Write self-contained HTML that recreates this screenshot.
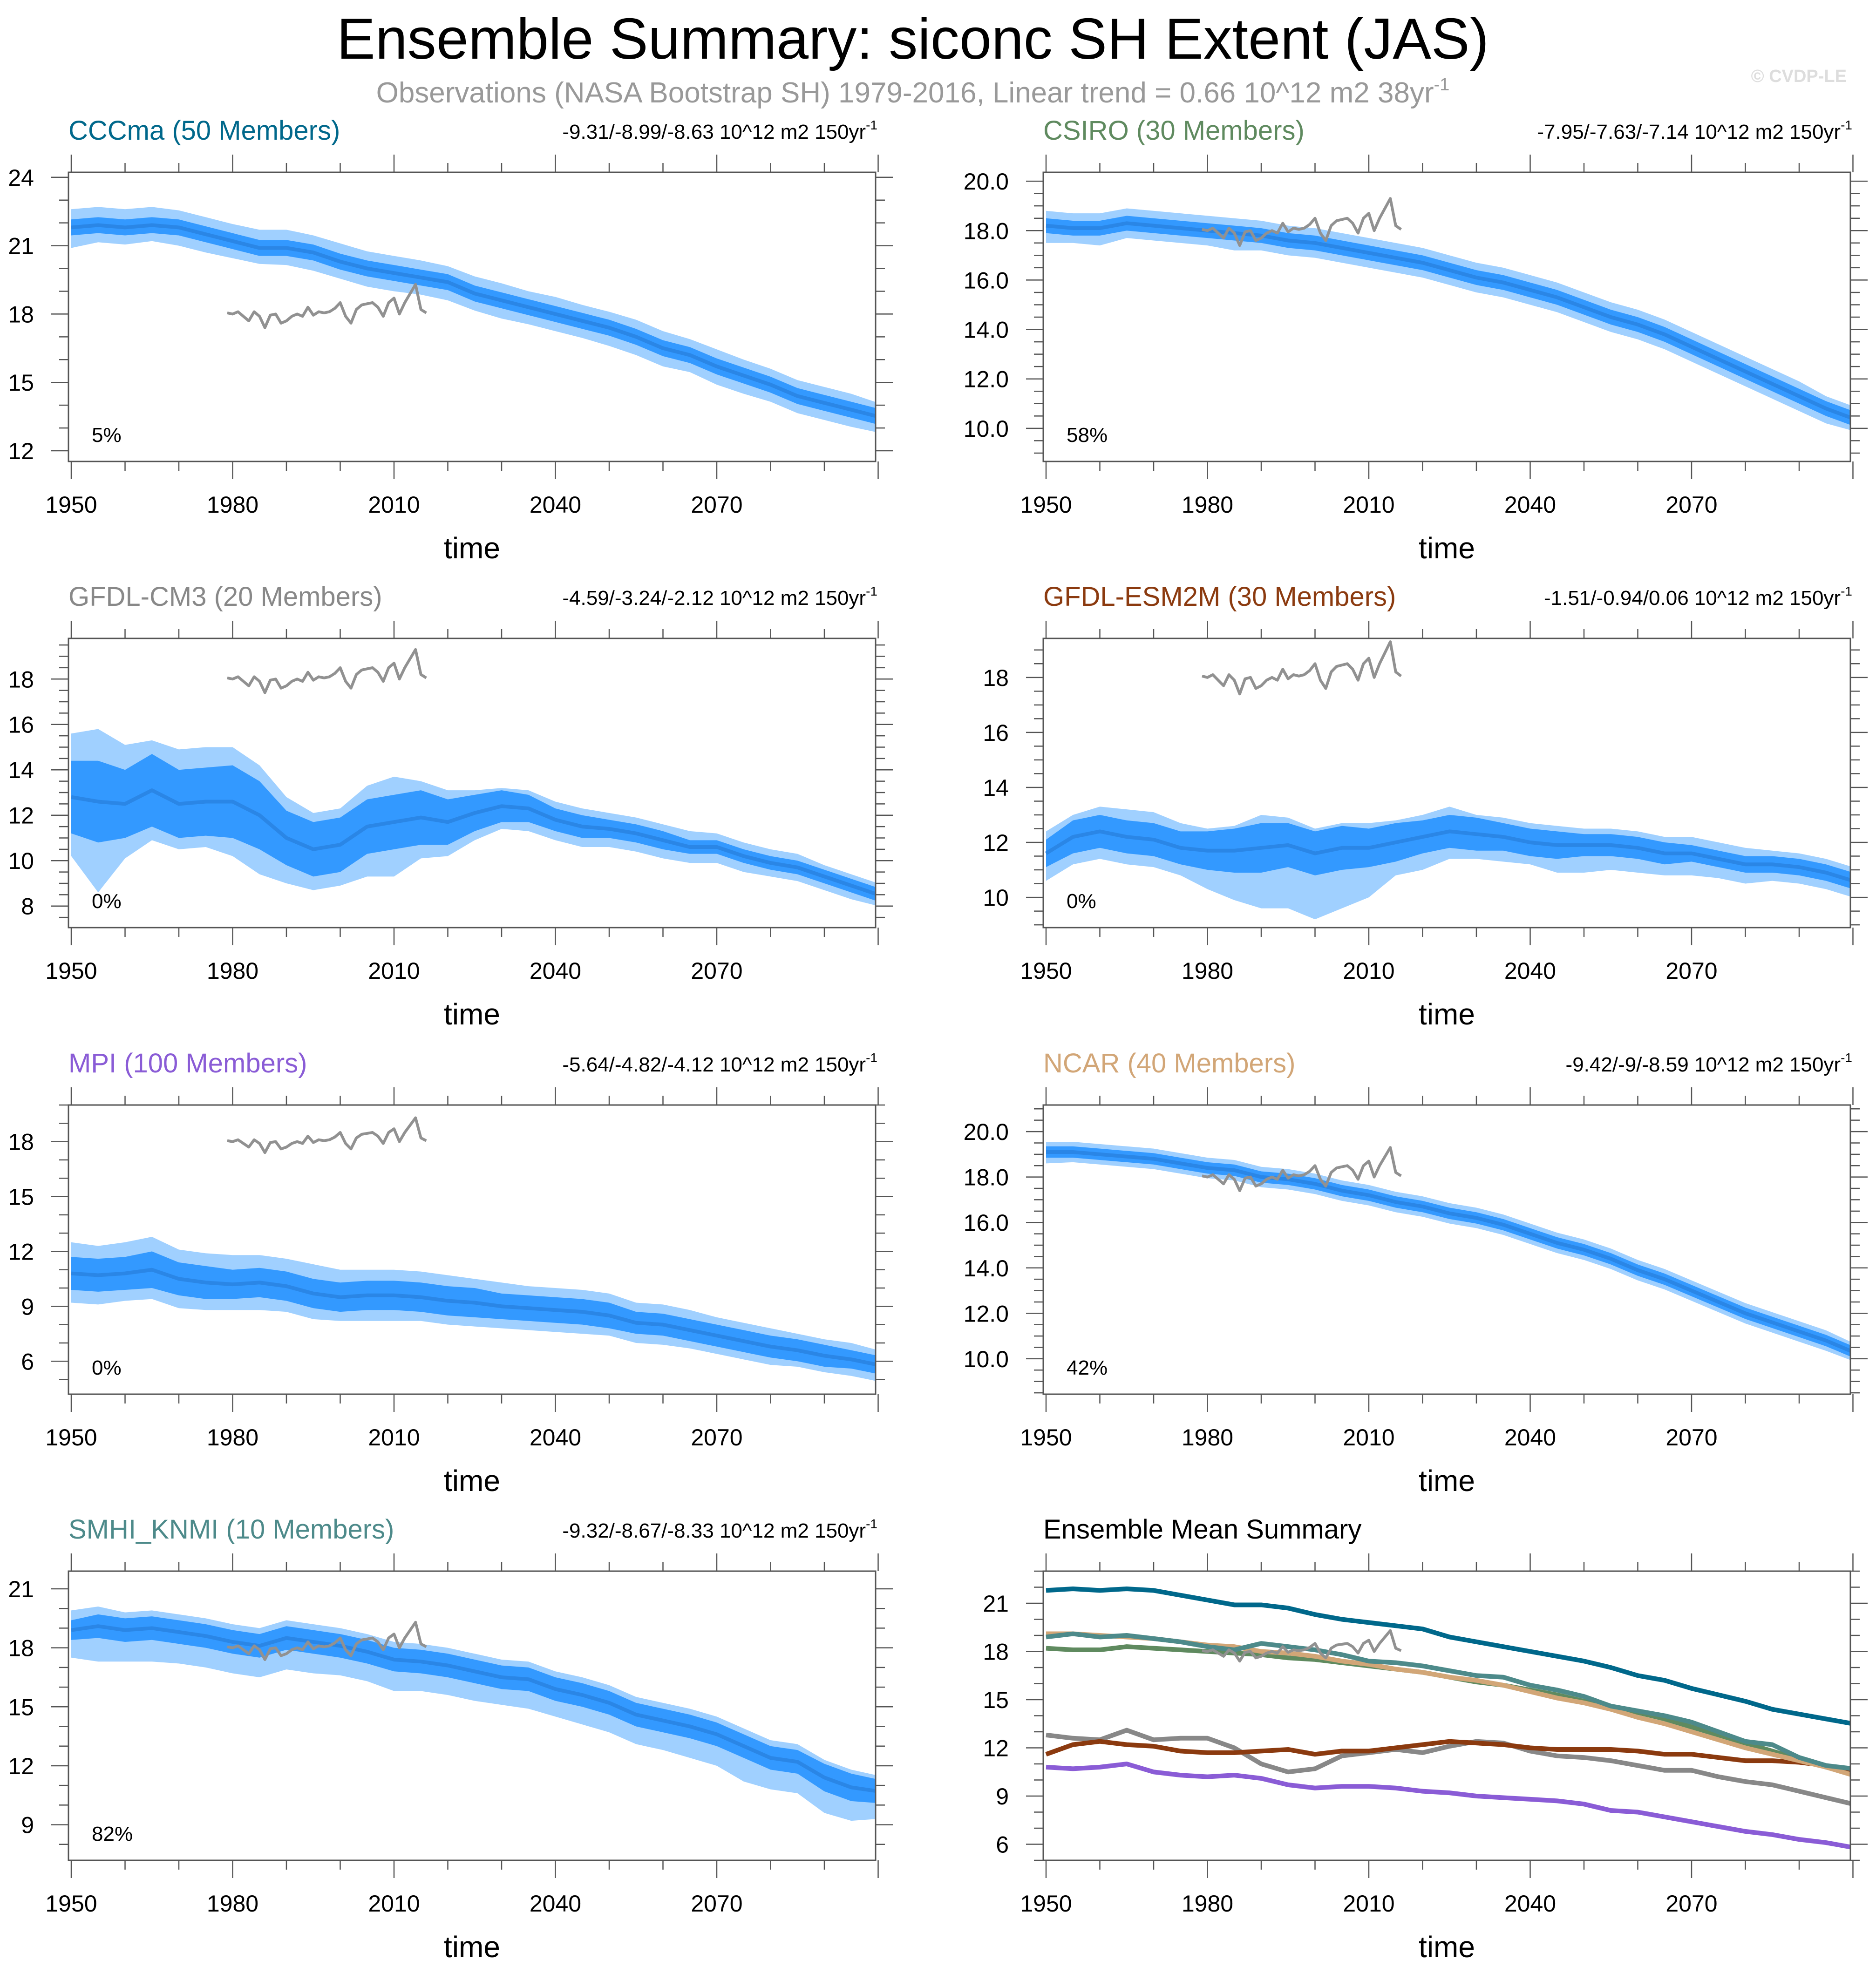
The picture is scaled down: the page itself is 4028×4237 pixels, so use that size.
<!DOCTYPE html>
<html><head><meta charset="utf-8">
<style>
html,body{margin:0;padding:0;background:#fff;}
svg{display:block;font-family:"Liberation Sans",Arial,sans-serif;}
</style></head>
<body>
<svg id="fig" width="4028" height="4237" viewBox="0 0 4028 4237" xmlns="http://www.w3.org/2000/svg">
<text x="1960" y="126" font-size="124" text-anchor="middle" fill="#000">Ensemble Summary: siconc SH Extent (JAS)</text>
<text x="1960" y="220" font-size="62" text-anchor="middle" fill="#999">Observations (NASA Bootstrap SH) 1979-2016, Linear trend = 0.66 10^12 m2 38yr<tspan font-size="38" dy="-26">-1</tspan></text>
<text x="3965" y="176" font-size="38" font-weight="bold" text-anchor="end" fill="#ddd">© CVDP-LE</text>
</svg>
<script>
// ---- data (5-year steps, 1950..2100) ----
const years5 = [1950,1955,1960,1965,1970,1975,1980,1985,1990,1995,2000,2005,2010,2015,2020,2025,2030,2035,2040,2045,2050,2055,2060,2065,2070,2075,2080,2085,2090,2095,2100];
const obsYears = [1979,1980,1981,1982,1983,1984,1985,1986,1987,1988,1989,1990,1991,1992,1993,1994,1995,1996,1997,1998,1999,2000,2001,2002,2003,2004,2005,2006,2007,2008,2009,2010,2011,2012,2013,2014,2015,2016];
const obsValues = [18.05,18.0,18.1,17.9,17.7,18.1,17.9,17.4,17.95,18.0,17.6,17.7,17.9,18.0,17.9,18.3,17.95,18.1,18.05,18.1,18.25,18.5,17.9,17.6,18.2,18.4,18.45,18.5,18.3,17.9,18.5,18.7,18.0,18.5,18.9,19.3,18.2,18.05];

const cccmaMean = [21.8,21.9,21.8,21.9,21.8,21.5,21.2,20.9,20.9,20.7,20.3,20.0,19.8,19.6,19.4,18.9,18.6,18.3,18.0,17.7,17.4,17.0,16.5,16.2,15.7,15.3,14.9,14.4,14.1,13.8,13.5];
const cccmaInner = [0.35,0.35,0.35,0.35,0.35,0.35,0.35,0.35,0.35,0.35,0.35,0.35,0.35,0.35,0.35,0.35,0.35,0.35,0.35,0.35,0.35,0.35,0.35,0.35,0.35,0.35,0.35,0.35,0.35,0.35,0.35];
const cccmaOutLo = [0.9,0.75,0.75,0.7,0.8,0.8,0.75,0.7,0.75,0.8,0.75,0.8,0.8,0.75,0.8,0.75,0.8,0.75,0.75,0.75,0.8,0.8,0.8,0.75,0.8,0.8,0.75,0.75,0.75,0.75,0.7];
const cccmaOutHi = [0.8,0.8,0.8,0.8,0.75,0.75,0.75,0.8,0.8,0.75,0.8,0.75,0.75,0.75,0.7,0.75,0.75,0.7,0.75,0.7,0.7,0.75,0.75,0.7,0.75,0.7,0.7,0.7,0.7,0.7,0.6];

const csiroMean = [18.2,18.1,18.1,18.3,18.2,18.1,18.0,17.9,17.8,17.6,17.5,17.3,17.1,16.9,16.7,16.4,16.1,15.9,15.6,15.3,14.9,14.5,14.2,13.8,13.3,12.8,12.3,11.8,11.3,10.8,10.4];
const csiroInner = [0.3,0.3,0.3,0.3,0.3,0.3,0.3,0.3,0.3,0.3,0.3,0.3,0.3,0.3,0.3,0.3,0.3,0.3,0.3,0.3,0.3,0.3,0.3,0.3,0.3,0.3,0.3,0.3,0.3,0.3,0.3];
const csiroOutLo = [0.7,0.6,0.7,0.6,0.6,0.6,0.6,0.7,0.6,0.6,0.6,0.6,0.6,0.6,0.6,0.6,0.6,0.6,0.6,0.6,0.6,0.6,0.6,0.6,0.6,0.6,0.6,0.6,0.6,0.6,0.5];
const csiroOutHi = [0.6,0.6,0.6,0.6,0.6,0.6,0.6,0.6,0.6,0.6,0.6,0.6,0.6,0.6,0.6,0.6,0.6,0.6,0.6,0.6,0.6,0.6,0.6,0.6,0.6,0.6,0.6,0.6,0.6,0.5,0.5];

const cm3Mean = [12.8,12.6,12.5,13.1,12.5,12.6,12.6,12.0,11.0,10.5,10.7,11.5,11.7,11.9,11.7,12.1,12.4,12.3,11.8,11.5,11.4,11.2,10.9,10.6,10.6,10.2,9.9,9.7,9.3,8.9,8.5];
const cm3Inner = [1.6,1.8,1.5,1.6,1.5,1.5,1.6,1.5,1.2,1.2,1.2,1.2,1.2,1.2,1.0,0.8,0.7,0.6,0.5,0.5,0.4,0.4,0.4,0.3,0.3,0.3,0.3,0.3,0.3,0.3,0.3];
const cm3OutLo = [2.6,4.0,2.4,2.2,2.0,2.0,2.4,2.6,2.0,1.8,1.8,2.2,2.4,1.8,1.5,1.2,1.0,1.0,0.9,0.9,0.8,0.8,0.8,0.7,0.7,0.7,0.6,0.6,0.6,0.6,0.5];
const cm3OutHi = [2.8,3.2,2.6,2.2,2.4,2.4,2.4,2.2,1.8,1.6,1.6,1.8,2.0,1.6,1.4,1.0,0.8,0.8,0.8,0.8,0.7,0.7,0.7,0.7,0.6,0.6,0.6,0.6,0.5,0.5,0.5];

const esmMean = [11.6,12.2,12.4,12.2,12.1,11.8,11.7,11.7,11.8,11.9,11.6,11.8,11.8,12.0,12.2,12.4,12.3,12.2,12.0,11.9,11.9,11.9,11.8,11.6,11.6,11.4,11.2,11.2,11.1,10.9,10.6];
const esmInner = [0.5,0.6,0.6,0.6,0.6,0.6,0.7,0.8,0.9,0.8,0.8,0.8,0.7,0.7,0.6,0.6,0.6,0.5,0.5,0.5,0.4,0.4,0.4,0.4,0.3,0.3,0.3,0.3,0.3,0.3,0.3];
const esmOutLo = [1.0,1.0,1.0,1.0,1.0,1.0,1.4,1.8,2.2,2.3,2.4,2.2,1.8,1.2,1.2,1.0,0.9,0.9,0.8,1.0,1.0,0.9,0.9,0.8,0.8,0.7,0.7,0.6,0.6,0.6,0.6];
const esmOutHi = [0.8,0.8,0.9,1.0,1.0,0.9,0.8,0.9,1.2,1.0,0.9,0.9,0.9,0.8,0.8,0.9,0.7,0.7,0.7,0.7,0.6,0.6,0.6,0.6,0.6,0.6,0.6,0.5,0.5,0.5,0.5];

const mpiMean = [10.8,10.7,10.8,11.0,10.5,10.3,10.2,10.3,10.1,9.7,9.5,9.6,9.6,9.5,9.3,9.2,9.0,8.9,8.8,8.7,8.5,8.1,8.0,7.7,7.4,7.1,6.8,6.6,6.3,6.1,5.8];
const mpiInner = [0.9,0.9,0.9,1.0,0.9,0.9,0.8,0.8,0.8,0.8,0.8,0.8,0.8,0.8,0.8,0.8,0.7,0.7,0.7,0.7,0.7,0.6,0.6,0.6,0.6,0.6,0.6,0.6,0.6,0.5,0.5];
const mpiOutLo = [1.6,1.6,1.5,1.6,1.6,1.5,1.4,1.5,1.4,1.4,1.3,1.4,1.4,1.3,1.3,1.3,1.2,1.2,1.2,1.2,1.1,1.1,1.1,1.0,1.0,1.0,1.0,0.9,0.9,0.9,0.9];
const mpiOutHi = [1.7,1.6,1.7,1.8,1.6,1.6,1.6,1.5,1.5,1.6,1.5,1.4,1.4,1.4,1.4,1.3,1.3,1.2,1.2,1.2,1.2,1.1,1.1,1.1,1.0,1.0,1.0,0.9,0.9,0.9,0.8];

const ncarMean = [19.1,19.1,19.0,18.9,18.8,18.6,18.4,18.3,18.0,17.9,17.7,17.4,17.2,16.9,16.7,16.4,16.2,15.9,15.5,15.1,14.8,14.4,13.9,13.5,13.0,12.5,12.0,11.6,11.2,10.8,10.3];
const ncarInner = [0.25,0.25,0.25,0.25,0.25,0.25,0.25,0.25,0.25,0.25,0.25,0.25,0.25,0.25,0.25,0.25,0.25,0.25,0.25,0.25,0.25,0.25,0.25,0.25,0.25,0.25,0.25,0.25,0.25,0.25,0.25];
const ncarOutLo = [0.5,0.45,0.45,0.45,0.45,0.45,0.45,0.45,0.45,0.45,0.45,0.45,0.45,0.45,0.45,0.45,0.45,0.45,0.45,0.45,0.45,0.45,0.45,0.45,0.45,0.45,0.45,0.45,0.45,0.45,0.4];
const ncarOutHi = [0.45,0.45,0.45,0.45,0.45,0.45,0.45,0.45,0.45,0.45,0.45,0.45,0.45,0.45,0.45,0.45,0.45,0.45,0.45,0.45,0.45,0.45,0.45,0.45,0.45,0.45,0.45,0.45,0.45,0.45,0.4];

const smhiMean = [18.9,19.1,18.9,19.0,18.8,18.6,18.3,18.1,18.5,18.3,18.1,17.8,17.4,17.3,17.1,16.8,16.5,16.4,15.9,15.6,15.2,14.6,14.3,14.0,13.6,13.0,12.4,12.2,11.4,10.9,10.7];
const smhiInner = [0.5,0.6,0.6,0.6,0.6,0.6,0.6,0.6,0.6,0.6,0.6,0.6,0.6,0.6,0.6,0.6,0.6,0.6,0.6,0.6,0.6,0.6,0.6,0.6,0.6,0.6,0.6,0.6,0.7,0.7,0.6];
const smhiOutLo = [1.4,1.8,1.6,1.7,1.6,1.6,1.6,1.6,1.6,1.6,1.5,1.5,1.6,1.5,1.5,1.5,1.4,1.5,1.4,1.5,1.5,1.5,1.5,1.6,1.6,1.8,1.6,1.6,1.8,1.7,1.4];
const smhiOutHi = [1.0,1.0,0.9,0.9,0.9,0.9,0.9,0.9,0.9,0.9,0.9,0.9,0.9,0.9,0.9,0.9,0.9,0.9,0.9,0.9,0.9,0.9,0.9,0.9,0.9,0.9,0.9,0.9,0.9,0.9,0.8];

const modelNames = ["CCCma (50 Members)","CSIRO (30 Members)","GFDL-CM3 (20 Members)","GFDL-ESM2M (30 Members)","MPI (100 Members)","NCAR (40 Members)","SMHI_KNMI (10 Members)"];
const trendLabels = ["-9.31/-8.99/-8.63","-7.95/-7.63/-7.14","-4.59/-3.24/-2.12","-1.51/-0.94/0.06","-5.64/-4.82/-4.12","-9.42/-9/-8.59","-9.32/-8.67/-8.33"];
const pctLabels = ["5%","58%","0%","0%","0%","42%","82%"];
const xTickLabels = [1950,1980,2010,2040,2070];

// ---- layout / style ----
const NS = "http://www.w3.org/2000/svg";
const svg = document.getElementById("fig");
const modelColors = ["#00688b","#5f8a5f","#888888","#8b3a0f","#8a5cd6","#d2a677","#4d8a8a"];
const series = [
 {m:cccmaMean,i:cccmaInner,lo:cccmaOutLo,hi:cccmaOutHi},
 {m:csiroMean,i:csiroInner,lo:csiroOutLo,hi:csiroOutHi},
 {m:cm3Mean,i:cm3Inner,lo:cm3OutLo,hi:cm3OutHi},
 {m:esmMean,i:esmInner,lo:esmOutLo,hi:esmOutHi},
 {m:mpiMean,i:mpiInner,lo:mpiOutLo,hi:mpiOutHi},
 {m:ncarMean,i:ncarInner,lo:ncarOutLo,hi:ncarOutHi},
 {m:smhiMean,i:smhiInner,lo:smhiOutLo,hi:smhiOutHi}
];
const axes = [
 {ymin:11.53,ymax:24.22,t0:12,t1:24,step:3,minor:1,dec:0},
 {ymin:8.66,ymax:20.36,t0:10,t1:20,step:2,minor:0.5,dec:1},
 {ymin:7.05,ymax:19.79,t0:8,t1:18,step:2,minor:0.5,dec:0},
 {ymin:8.9,ymax:19.42,t0:10,t1:18,step:2,minor:0.5,dec:0},
 {ymin:4.2,ymax:20.0,t0:6,t1:18,step:3,minor:1,dec:0},
 {ymin:8.44,ymax:21.17,t0:10,t1:20,step:2,minor:0.5,dec:1},
 {ymin:7.19,ymax:21.9,t0:9,t1:21,step:3,minor:1,dec:0},
 {ymin:5.0,ymax:23.0,t0:6,t1:21,step:3,minor:1,dec:0}
];
const colLeft = [147,2240], boxW = 1733, rowTop = [370,1371,2373,3374], boxH = 621;

function mk(tag, attrs, parent){
  const e = document.createElementNS(NS, tag);
  for (const k in attrs) e.setAttribute(k, attrs[k]);
  (parent||svg).appendChild(e);
  return e;
}

for (let p = 0; p < 8; p++){
  const L = colLeft[p%2], T = rowTop[Math.floor(p/2)], R = L+boxW, B = T+boxH;
  const ax = axes[p];
  const xs = yr => L + 6 + (yr-1950)*11.55;
  const ys = v => B - (v-ax.ymin)/(ax.ymax-ax.ymin)*boxH;
  const g = mk("g", {});
  
  

  const clipId = "clip"+p;
  const cp = mk("clipPath", {id:clipId}, g);
  mk("rect", {x:L, y:T, width:boxW, height:boxH}, cp);
  const plot = mk("g", {"clip-path":"url(#"+clipId+")"}, g);

  const pts = (arr) => years5.map((y,k)=> xs(y)+","+ys(arr[k])).join(" ");

  if (p < 7){
    const s = series[p];
    const outerPts = years5.map((y,k)=>xs(y)+","+ys(s.m[k]+s.hi[k])).concat(years5.slice().reverse().map((y,j)=>{const k=years5.length-1-j;return xs(y)+","+ys(s.m[k]-s.lo[k]);})).join(" ");
    const outer = mk("polygon", {points:outerPts, fill:"#a0d0ff"}, plot);
    
    
    const innerPts = years5.map((y,k)=>xs(y)+","+ys(s.m[k]+s.i[k])).concat(years5.slice().reverse().map((y,j)=>{const k=years5.length-1-j;return xs(y)+","+ys(s.m[k]-s.i[k]);})).join(" ");
    const inner = mk("polygon", {points:innerPts, fill:"#3399ff"}, plot);
    
    
    const mean = mk("polyline", {points:pts(s.m), fill:"none", stroke:"#2a86e6", "stroke-width":8, "stroke-linejoin":"round"}, plot);
    
    
  } else {
    for (let k = 0; k < 7; k++){
      const ln = mk("polyline", {points:pts(series[k].m), fill:"none", stroke:modelColors[k], "stroke-width":10, "stroke-linejoin":"round"}, plot);
      
      
    }
  }
  const obs = mk("polyline", {points:obsYears.map((y,k)=>xs(y)+","+ys(obsValues[k])).join(" "), fill:"none", stroke:"#919191", "stroke-width":6, "stroke-linejoin":"round"}, plot);
  
  

  const box = mk("rect", {x:L, y:T, width:boxW, height:boxH, fill:"none", stroke:"#555", "stroke-width":3}, g);
  
  

  for (let yr = 1950; yr <= 2100; yr += 10){
    const x = xs(yr), maj = (yr-1950)%30===0, len = maj?38:20;
    mk("line", {x1:x, y1:T, x2:x, y2:T-len, stroke:"#555", "stroke-width":2.5}, g);
    mk("line", {x1:x, y1:B, x2:x, y2:B+len, stroke:"#555", "stroke-width":2.5}, g);
  }
  xTickLabels.forEach(yr=>{
    const t = mk("text", {x:xs(yr), y:B+110, "font-size":50, "text-anchor":"middle"}, g);
    t.textContent = yr;
    
    
  });
  const nMin = Math.round((ax.ymax-ax.t0)/ax.minor), nStart = Math.ceil((ax.ymin-ax.t0)/ax.minor);
  for (let k = nStart; k <= nMin; k++){
    const v = ax.t0 + k*ax.minor;
    if (v < ax.ymin || v > ax.ymax) continue;
    const y = ys(v), maj = Math.abs(((v-ax.t0)/ax.step) - Math.round((v-ax.t0)/ax.step))<1e-6, len = maj?37:20;
    mk("line", {x1:L, y1:y, x2:L-len, y2:y, stroke:"#555", "stroke-width":2.5}, g);
    mk("line", {x1:R, y1:y, x2:R+len, y2:y, stroke:"#555", "stroke-width":2.5}, g);
  }
  for (let v = ax.t0; v <= ax.t1+1e-6; v += ax.step){
    const t = mk("text", {x:L-74, y:ys(v)+18, "font-size":50, "text-anchor":"end"}, g);
    t.textContent = v.toFixed(ax.dec);
    
    
  }
  const xt = mk("text", {x:(L+R)/2, y:B+208, "font-size":64, "text-anchor":"middle"}, g);
  xt.textContent = "time";
  
  

  const tt = mk("text", {x:L, y:T-70, "font-size":58, fill: p<7?modelColors[p]:"#000"}, g);
  tt.textContent = p<7 ? modelNames[p] : "Ensemble Mean Summary";
  
  
  if (p < 7){
    const st = mk("text", {x:R+4, y:T-72, "font-size":44, "text-anchor":"end"}, g);
    st.textContent = trendLabels[p] + " 10^12 m2 150yr";
    const sup = mk("tspan", {"font-size":28, dy:-20}, st);
    sup.textContent = "-1";
    
    
    const pc = mk("text", {x:L+50, y:B-42, "font-size":44}, g);
    pc.textContent = pctLabels[p];
    
    
  }
}
</script>
</body></html>
